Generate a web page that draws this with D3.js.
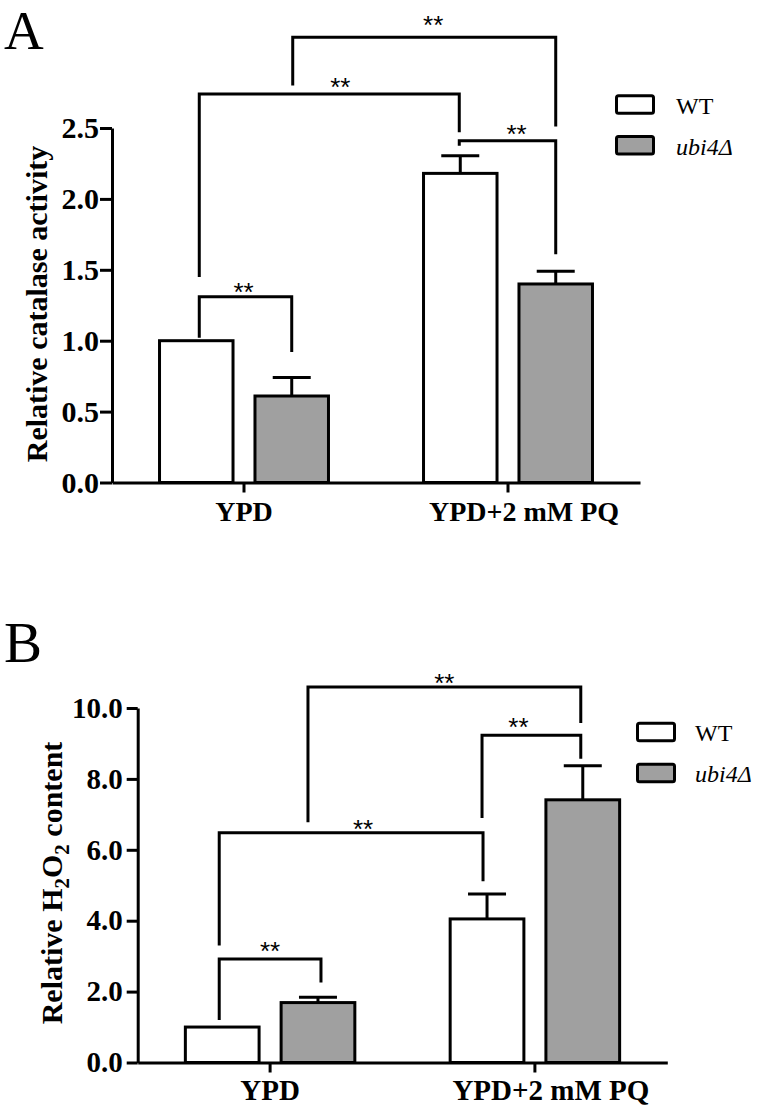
<!DOCTYPE html>
<html>
<head>
<meta charset="utf-8">
<script src="https://cdn.jsdelivr.net/npm/d3@7"></script>
<style>
  html, body { margin: 0; padding: 0; background: #ffffff; }
  svg { display: block; }
</style>
</head>
<body>
<svg id="chart" width="767" height="1109"></svg>
<script>
// ---------------- DATA ----------------
const categories = ["YPD", "YPD+2 mM PQ"];
const seriesNames = ["WT", "ubi4Δ"];
const seriesColors = ["#ffffff", "#a0a0a0"];

// Panel A: relative catalase activity
const catalaseWT = [1.00, 2.18];
const catalaseUbi4 = [0.61, 1.40];
const catalaseWTErr = [0.00, 0.125];
const catalaseUbi4Err = [0.13, 0.09];
const catalaseTicks = [0, 0.5, 1.0, 1.5, 2.0, 2.5];

// Panel B: relative H2O2 content
const h2o2WT = [1.00, 4.05];
const h2o2Ubi4 = [1.69, 7.41];
const h2o2WTErr = [0.00, 0.70];
const h2o2Ubi4Err = [0.15, 0.96];
const h2o2Ticks = [0, 2, 4, 6, 8, 10];

// Significance brackets: from [category, series] to [category, series],
// leg bottoms / top in data units, star position in data units
const catalaseBrackets = [
  { from: [0, 0], to: [0, 1], left: 1.02, top: 1.31, right: 0.92, star: 1.356, label: "**" },
  { from: [0, 0], to: [1, 0], left: 1.45, top: 2.74, right: 2.47, star: 2.80, label: "**" },
  { from: [1, 0], to: [1, 1], left: 2.375, top: 2.41, right: 1.61, star: 2.47, label: "**" },
  { from: [0, 1], to: [1, 1], left: 2.80, top: 3.14, right: 2.51, star: 3.24, label: "**" }
];
const h2o2Brackets = [
  { from: [0, 0], to: [0, 1], left: 1.20, top: 2.92, right: 2.26, star: 3.21, label: "**" },
  { from: [0, 0], to: [1, 0], left: 3.30, top: 6.48, right: 5.11, star: 6.63, label: "**" },
  { from: [1, 0], to: [1, 1], left: 6.90, top: 9.23, right: 8.57, star: 9.53, label: "**" },
  { from: [0, 1], to: [1, 1], left: 6.78, top: 10.59, right: 9.58, star: 10.77, label: "**" }
];

// ---------------- DRAWING ----------------
const svg = d3.select("#chart");
svg.append("rect").attr("width", 767).attr("height", 1109).attr("fill", "#ffffff");

const SERIF = "'Liberation Serif', 'Times New Roman', serif";
const SANS = "'Liberation Sans', Arial, sans-serif";

function drawPanel(cfg) {
  const g = svg.append("g");

  const x0 = d3.scaleBand().domain(categories).range(cfg.xRange)
    .paddingInner(0.36).paddingOuter(0.18);
  const x1 = d3.scaleBand().domain(seriesNames).range([0, x0.bandwidth()])
    .paddingInner(0.23);
  const y = d3.scaleLinear().domain(cfg.yDomain).range(cfg.yRange);

  const rows = [];
  categories.forEach((c, i) => {
    seriesNames.forEach((s, j) => {
      rows.push({ c, s, j, v: cfg.values[j][i], e: cfg.errors[j][i] });
    });
  });

  // error bars
  const eb = g.append("g").attr("stroke", "#000").attr("stroke-width", 3).attr("fill", "none");
  rows.filter(d => d.e > 0).forEach(d => {
    const cx = x0(d.c) + x1(d.s) + x1.bandwidth() / 2;
    eb.append("line").attr("x1", cx).attr("x2", cx)
      .attr("y1", y(d.v)).attr("y2", y(d.v + d.e));
    eb.append("line").attr("x1", cx - 19).attr("x2", cx + 19)
      .attr("y1", y(d.v + d.e)).attr("y2", y(d.v + d.e));
  });

  // bars
  g.append("g").selectAll("rect").data(rows).join("rect")
    .attr("x", d => x0(d.c) + x1(d.s))
    .attr("width", x1.bandwidth())
    .attr("y", d => y(d.v))
    .attr("height", d => y(0) - y(d.v))
    .attr("fill", d => seriesColors[d.j])
    .attr("stroke", "#000")
    .attr("stroke-width", 3);

  // y axis
  const yAxis = d3.axisLeft(y).tickValues(cfg.ticks).tickFormat(d3.format(".1f"))
    .tickSize(cfg.tickLen).tickSizeOuter(0).tickPadding(cfg.tickPad);
  const ya = g.append("g").attr("transform", `translate(${cfg.xRange[0]},0)`).call(yAxis);
  ya.selectAll("path, line").attr("stroke", "#000").attr("stroke-width", 3);
  ya.selectAll("text").attr("fill", "#000")
    .style("font-family", SERIF).style("font-weight", "bold").style("font-size", cfg.tickFont + "px");

  // x axis
  const xAxis = d3.axisBottom(x0).tickSize(10).tickSizeOuter(0);
  const xa = g.append("g").attr("transform", `translate(0,${cfg.yRange[0]})`).call(xAxis);
  xa.selectAll("path, line").attr("stroke", "#000").attr("stroke-width", 3);
  xa.selectAll("text").attr("fill", "#000")
    .attr("y", cfg.xLabelBaseline - cfg.yRange[0]).attr("dy", 0)
    .attr("dx", (d, i) => i === 1 ? cfg.secondLabelDx : 0)
    .style("font-family", SERIF).style("font-weight", "bold").style("font-size", cfg.xFont + "px");

  // brackets
  const bw = x1.bandwidth();
  const bx = (p) => x0(categories[p[0]]) + x1(seriesNames[p[1]]) + bw / 2;
  const bg = g.append("g");
  cfg.brackets.forEach((b, k) => {
    const off = cfg.bracketDx[k];
    const xl = bx(b.from) + off[0];
    const xr = bx(b.to) + off[1];
    bg.append("path")
      .attr("d", `M${xl},${y(b.left)}V${y(b.top)}H${xr}V${y(b.right)}`)
      .attr("fill", "none").attr("stroke", "#000").attr("stroke-width", 3)
      .attr("stroke-linejoin", "miter");
    bg.append("text")
      .attr("x", (xl + xr) / 2 + off[2])
      .attr("y", y(b.star) + 0.42 * 26)
      .attr("text-anchor", "middle")
      .style("font-family", SANS).style("font-size", "26px").attr("fill", "#000")
      .text(b.label);
  });

  // legend
  const lg = g.append("g");
  seriesNames.forEach((s, j) => {
    lg.append("rect")
      .attr("x", cfg.legend.x).attr("y", cfg.legend.y + j * cfg.legend.gap)
      .attr("width", 37).attr("height", 17.5).attr("rx", 2)
      .attr("fill", seriesColors[j]).attr("stroke", "#000").attr("stroke-width", 3);
    lg.append("text")
      .attr("x", cfg.legend.tx).attr("y", cfg.legend.ty + j * cfg.legend.gap)
      .style("font-family", SERIF).style("font-size", "24px")
      .style("font-style", j === 1 ? "italic" : "normal")
      .attr("fill", "#000").text(s);
  });

  // y title
  const t = g.append("text")
    .attr("transform", `translate(${cfg.title.x},${cfg.title.y}) rotate(-90)`)
    .attr("text-anchor", "middle")
    .style("font-family", SERIF).style("font-weight", "bold").style("font-size", cfg.title.size + "px")
    .attr("fill", "#000");
  cfg.title.parts.forEach(p => {
    const ts = t.append("tspan").text(p.t);
    if (p.sub) ts.attr("dy", 7).style("font-size", (cfg.title.size * 0.7) + "px");
    if (p.back) ts.attr("dy", -7);
  });

  // panel letter
  g.append("text").attr("x", cfg.letter.x).attr("y", cfg.letter.y)
    .style("font-family", SERIF).style("font-size", cfg.letter.size + "px").attr("fill", "#000")
    .text(cfg.letter.t);
}

drawPanel({
  xRange: [112, 640], yDomain: [0, 2.5], yRange: [482.5, 128],
  values: [catalaseWT, catalaseUbi4], errors: [catalaseWTErr, catalaseUbi4Err],
  ticks: catalaseTicks, tickLen: 12, tickPad: 1, tickFont: 30,
  xLabelBaseline: 521, xFont: 28, secondLabelDx: 16,
  brackets: catalaseBrackets,
  bracketDx: [[3, 0, -2], [3, -1, 11], [-1, 0, 9], [1, 0, 9]],
  legend: { x: 616.5, y: 95.8, gap: 40.8, tx: 676, ty: 114 },
  title: { x: 47, y: 304, size: 30, parts: [{ t: "Relative catalase activity" }] },
  letter: { x: 4, y: 49, size: 55, t: "A" }
});

drawPanel({
  xRange: [137.7, 667.3], yDomain: [0, 10], yRange: [1062.5, 708],
  values: [h2o2WT, h2o2Ubi4], errors: [h2o2WTErr, h2o2Ubi4Err],
  ticks: h2o2Ticks, tickLen: 11, tickPad: 4, tickFont: 29,
  xLabelBaseline: 1100, xFont: 29, secondLabelDx: 16,
  brackets: h2o2Brackets,
  bracketDx: [[-3, 3, 0], [-3, -4, 12], [-5, -2, -13], [-10, -2, 0]],
  legend: { x: 637.5, y: 723.2, gap: 41, tx: 695, ty: 741 },
  title: { x: 61.5, y: 883, size: 30, parts: [
    { t: "Relative H" }, { t: "2", sub: true }, { t: "O", back: true },
    { t: "2", sub: true }, { t: " content", back: true }
  ] },
  letter: { x: 4, y: 662, size: 57, t: "B" }
});
</script>
</body>
</html>
